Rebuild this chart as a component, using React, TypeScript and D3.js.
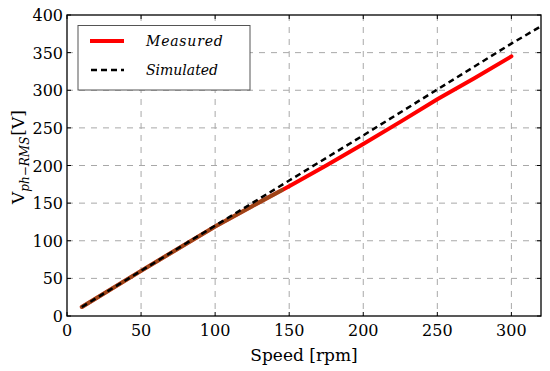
import React, { useEffect, useRef } from "react";
import * as d3 from "d3";

const measuredSpeed = [10, 50, 100, 125, 150, 175, 200, 225, 250, 275, 300];
const measuredVolt = [12, 60, 119, 146, 172.5, 200, 228.5, 258, 288, 316, 345];
const simulatedSpeed = [10, 50, 100, 150, 200, 250, 300, 320];
const simulatedVolt = [12, 60, 120, 180, 240, 301, 362, 385];
const overlapUntil = 145;
const xTicks = [0, 50, 100, 150, 200, 250, 300];
const yTicks = [0, 50, 100, 150, 200, 250, 300, 350, 400];

const W = 550;
const H = 371;
const FONT = "DejaVu Serif, serif";

const App: React.FC = () => {
  const svgRef = useRef<SVGSVGElement | null>(null);

  useEffect(() => {
    if (!svgRef.current) return;
    const svg = d3.select(svgRef.current);
    svg.selectAll("*").remove();

    const left = 67, right = 541, top = 15, bottom = 316;
    const x = d3.scaleLinear().domain([0, 320]).range([left, right]);
    const y = d3.scaleLinear().domain([0, 400]).range([bottom, top]);

    // grid
    const grid = svg.append("g").attr("stroke", "#a8a8a8").attr("stroke-width", 1).attr("stroke-dasharray", "6,6");
    xTicks.filter((t) => t > 0).forEach((t) => {
      grid.append("line").attr("x1", x(t)).attr("x2", x(t)).attr("y1", top).attr("y2", bottom);
    });
    yTicks.filter((t) => t > 0 && t < 400).forEach((t) => {
      grid.append("line").attr("x1", left).attr("x2", right).attr("y1", y(t)).attr("y2", y(t));
    });

    const line = d3
      .line<[number, number]>()
      .x((d) => x(d[0]))
      .y((d) => y(d[1]));

    const meas: [number, number][] = measuredSpeed.map((s, i) => [s, measuredVolt[i]]);
    const sim: [number, number][] = simulatedSpeed.map((s, i) => [s, simulatedVolt[i]]);
    const interp = d3.scaleLinear().domain(measuredSpeed).range(measuredVolt);

    svg
      .append("clipPath")
      .attr("id", "plotclip")
      .append("rect")
      .attr("x", left)
      .attr("y", top)
      .attr("width", right - left)
      .attr("height", bottom - top);

    svg
      .append("path")
      .datum(meas)
      .attr("d", line)
      .attr("fill", "none")
      .attr("stroke", "#ff0000")
      .attr("stroke-width", 4)
      .attr("stroke-linecap", "round");

    // darker overlap region at low speed
    svg
      .append("path")
      .datum(meas.filter((d) => d[0] < overlapUntil).concat([[overlapUntil, interp(overlapUntil)]]))
      .attr("d", line)
      .attr("fill", "none")
      .attr("stroke", "#4f7a28")
      .attr("stroke-opacity", 0.55)
      .attr("stroke-width", 4)
      .attr("stroke-linecap", "round");

    svg
      .append("path")
      .datum(sim)
      .attr("d", line)
      .attr("clip-path", "url(#plotclip)")
      .attr("fill", "none")
      .attr("stroke", "#000")
      .attr("stroke-width", 2.5)
      .attr("stroke-dasharray", "6,4");

    // ticks (inward, all sides)
    const tk = svg.append("g").attr("stroke", "#000").attr("stroke-width", 1);
    xTicks.forEach((t) => {
      tk.append("line").attr("x1", x(t)).attr("x2", x(t)).attr("y1", bottom).attr("y2", bottom - 4);
      tk.append("line").attr("x1", x(t)).attr("x2", x(t)).attr("y1", top).attr("y2", top + 4);
    });
    yTicks.forEach((t) => {
      tk.append("line").attr("x1", left).attr("x2", left + 4).attr("y1", y(t)).attr("y2", y(t));
      tk.append("line").attr("x1", right).attr("x2", right - 4).attr("y1", y(t)).attr("y2", y(t));
    });

    // frame
    svg
      .append("rect")
      .attr("x", left)
      .attr("y", top)
      .attr("width", right - left)
      .attr("height", bottom - top)
      .attr("fill", "none")
      .attr("stroke", "#000")
      .attr("stroke-width", 1.3);

    // tick labels
    svg
      .selectAll("text.xt")
      .data(xTicks)
      .enter()
      .append("text")
      .attr("x", (d) => x(d))
      .attr("y", bottom + 20)
      .attr("text-anchor", "middle")
      .attr("font-family", FONT)
      .attr("font-size", 16)
      .text((d) => d);
    svg
      .selectAll("text.yt")
      .data(yTicks)
      .enter()
      .append("text")
      .attr("x", left - 4)
      .attr("y", (d) => y(d) + 6)
      .attr("text-anchor", "end")
      .attr("font-family", FONT)
      .attr("font-size", 16)
      .text((d) => d);

    // axis labels
    svg
      .append("text")
      .attr("x", (left + right) / 2)
      .attr("y", 361)
      .attr("text-anchor", "middle")
      .attr("font-family", FONT)
      .attr("font-size", 17)
      .text("Speed [rpm]");

    const yl = svg
      .append("text")
      .attr("transform", "translate(24,157) rotate(-90)")
      .attr("text-anchor", "middle")
      .attr("font-family", FONT)
      .attr("font-size", 17);
    yl.append("tspan").text("V");
    yl.append("tspan")
      .attr("dy", 5)
      .attr("font-size", 12)
      .attr("font-style", "italic")
      .text("ph−RMS");
    yl.append("tspan").attr("dy", -5).attr("dx", 1).text("[V]");

    // legend
    const lg = svg.append("g");
    lg.append("rect")
      .attr("x", 78)
      .attr("y", 25.5)
      .attr("width", 172)
      .attr("height", 64.5)
      .attr("fill", "#fff")
      .attr("stroke", "#555")
      .attr("stroke-width", 1);
    lg.append("line")
      .attr("x1", 90)
      .attr("x2", 124)
      .attr("y1", 41)
      .attr("y2", 41)
      .attr("stroke", "#ff0000")
      .attr("stroke-width", 4);
    lg.append("line")
      .attr("x1", 91)
      .attr("x2", 124)
      .attr("y1", 70)
      .attr("y2", 70)
      .attr("stroke", "#000")
      .attr("stroke-width", 2.5)
      .attr("stroke-dasharray", "6,4");
    lg.append("text")
      .attr("x", 146)
      .attr("y", 46)
      .attr("font-family", FONT)
      .attr("font-size", 14)
      .attr("font-style", "italic")
      .attr("letter-spacing", 0.8)
      .text("Measured");
    lg.append("text")
      .attr("x", 146)
      .attr("y", 75)
      .attr("font-family", FONT)
      .attr("font-size", 14)
      .attr("font-style", "italic")
      .text("Simulated");
  }, []);

  return (
    <svg
      ref={svgRef}
      width={W}
      height={H}
      style={{ position: "absolute", left: 0, top: 0, background: "#fff" }}
    />
  );
};

export default App;
